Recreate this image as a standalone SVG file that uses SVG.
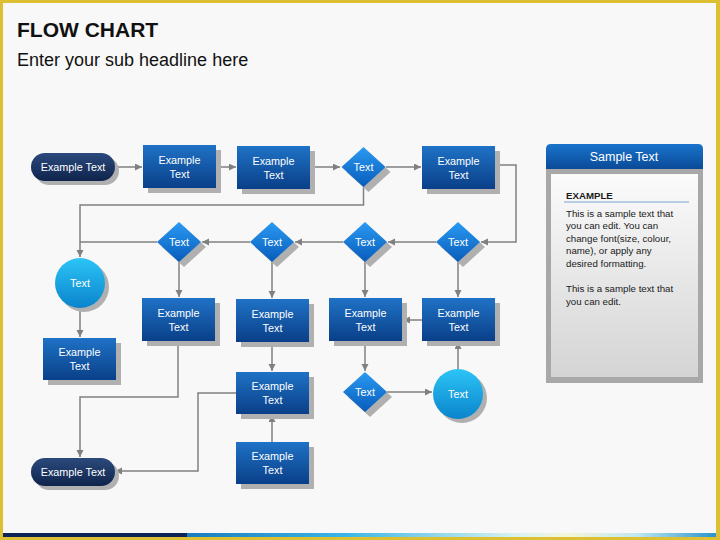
<svg xmlns="http://www.w3.org/2000/svg" width="720" height="540" viewBox="0 0 720 540">
<defs>
<linearGradient id="gBox" x1="0" y1="0" x2="0" y2="1"><stop offset="0" stop-color="#1f72c6"/><stop offset="1" stop-color="#0a3f88"/></linearGradient>
<linearGradient id="gDia" x1="0" y1="0" x2="0" y2="1"><stop offset="0" stop-color="#2a9af2"/><stop offset="1" stop-color="#085cba"/></linearGradient>
<linearGradient id="gCir" x1="0" y1="0" x2="0" y2="1"><stop offset="0" stop-color="#2cc4f6"/><stop offset="1" stop-color="#0a84cc"/></linearGradient>
<linearGradient id="gTerm" x1="0" y1="0" x2="0" y2="1"><stop offset="0" stop-color="#2b4a7c"/><stop offset="1" stop-color="#0f244c"/></linearGradient>
<linearGradient id="gHead" x1="0" y1="0" x2="0" y2="1"><stop offset="0" stop-color="#1a74cc"/><stop offset="1" stop-color="#0a4a98"/></linearGradient>
<linearGradient id="gPanel" x1="0" y1="0" x2="0" y2="1"><stop offset="0" stop-color="#fbfbfb"/><stop offset="1" stop-color="#d4d4d4"/></linearGradient>
<linearGradient id="gBar" x1="0" y1="0" x2="1" y2="0"><stop offset="0" stop-color="#1a7cc0"/><stop offset="0.3" stop-color="#3cb6e6"/><stop offset="0.62" stop-color="#d8f2f0"/><stop offset="0.72" stop-color="#f4f6d8"/><stop offset="0.85" stop-color="#bfe8f2"/><stop offset="1" stop-color="#2a94cc"/></linearGradient>
<marker id="arr" markerUnits="userSpaceOnUse" markerWidth="8" markerHeight="8" refX="7" refY="3.5" orient="auto"><path d="M0,0 L7,3.5 L0,7 z" fill="#808080"/></marker>
<style>
.bg{fill:#f8f8f8}
.sh{fill:#b0b0b0}
.box{fill:url(#gBox)}
.dia{fill:url(#gDia)}
.cir{fill:url(#gCir)}
.term{fill:url(#gTerm)}
.t{font-family:"Liberation Sans",Arial,sans-serif;font-size:10.8px;fill:#ffffff;text-anchor:middle}
.c{fill:none;stroke:#808080;stroke-width:1.5}
.ca{fill:none;stroke:#808080;stroke-width:1.5;marker-end:url(#arr)}
.pt{font-family:"Liberation Sans",Arial,sans-serif;font-size:9.7px;fill:#1a1a1a}
</style>
</defs>
<rect x="0" y="0" width="720" height="540" fill="#dcc032"/>
<rect class="bg" x="3" y="3" width="713" height="534"/>
<rect x="187" y="533" width="529" height="4" fill="url(#gBar)"/>
<rect x="3" y="533" width="184" height="4" fill="#0e2456"/>
<text x="17" y="37" font-family="'Liberation Sans',Arial,sans-serif" font-size="21" font-weight="bold" fill="#111">FLOW CHART</text>
<text x="17" y="66" font-family="'Liberation Sans',Arial,sans-serif" font-size="18" fill="#111">Enter your sub headline here</text>

<g id="connectors">
<path class="ca" d="M114,167 H142"/>
<path class="ca" d="M216,167 H236"/>
<path class="ca" d="M310,167 H340"/>
<path class="ca" d="M386,167 H421"/>
<path class="ca" d="M495,165 H516 V242 H481"/>
<path class="ca" d="M363.5,187 V205 H80 V257"/>
<path class="ca" d="M436,242 H388"/>
<path class="ca" d="M343,242 H295"/>
<path class="ca" d="M250,242 H202"/>
<path class="c" d="M157,242 H80"/>
<path class="ca" d="M179,262 V297"/>
<path class="ca" d="M272,262 V298"/>
<path class="ca" d="M365,262 V297"/>
<path class="ca" d="M458,262 V297"/>
<path class="ca" d="M80,308 V337"/>
<path class="ca" d="M422,320 H403"/>
<path class="ca" d="M272,341 V371"/>
<path class="ca" d="M272,442 V415"/>
<path class="ca" d="M365,341 V371"/>
<path class="ca" d="M387,392 H432"/>
<path class="ca" d="M458,369 V342"/>
<path class="ca" d="M178,341 V397 H80 V457"/>
<path class="ca" d="M236,393 H198 V471 H115"/>
</g>

<g id="term1"><rect class="sh" x="35" y="157" width="84" height="28" rx="14"/><rect class="term" x="31" y="153" width="84" height="28" rx="14"/><text class="t" x="73" y="171">Example Text</text></g>
<g id="box1"><rect class="sh" x="148" y="150" width="73" height="43"/><rect class="box" x="143" y="145" width="73" height="43"/><text class="t" x="179.5" y="163.5">Example</text><text class="t" x="179.5" y="177.5">Text</text></g>
<g id="box2"><rect class="sh" x="242" y="151" width="73" height="43"/><rect class="box" x="237" y="146" width="73" height="43"/><text class="t" x="273.5" y="164.5">Example</text><text class="t" x="273.5" y="178.5">Text</text></g>
<g id="dec1"><path class="sh" d="M368.5,152 L390.5,172 L368.5,192 L346.5,172 z"/><path class="dia" d="M363.5,147 L385.5,167 L363.5,187 L341.5,167 z"/><text class="t" x="363.5" y="171">Text</text></g>
<g id="box3"><rect class="sh" x="427" y="151" width="73" height="43"/><rect class="box" x="422" y="146" width="73" height="43"/><text class="t" x="458.5" y="164.5">Example</text><text class="t" x="458.5" y="178.5">Text</text></g>

<g id="dec2"><path class="sh" d="M184,227 L206,247 L184,267 L162,247 z"/><path class="dia" d="M179,222 L201,242 L179,262 L157,242 z"/><text class="t" x="179" y="246">Text</text></g>
<g id="dec3"><path class="sh" d="M277,227 L299,247 L277,267 L255,247 z"/><path class="dia" d="M272,222 L294,242 L272,262 L250,242 z"/><text class="t" x="272" y="246">Text</text></g>
<g id="dec4"><path class="sh" d="M370,227 L392,247 L370,267 L348,247 z"/><path class="dia" d="M365,222 L387,242 L365,262 L343,242 z"/><text class="t" x="365" y="246">Text</text></g>
<g id="dec5"><path class="sh" d="M463,227 L485,247 L463,267 L441,247 z"/><path class="dia" d="M458,222 L480,242 L458,262 L436,242 z"/><text class="t" x="458" y="246">Text</text></g>

<g id="circle1"><circle class="sh" cx="84" cy="287" r="25"/><circle class="cir" cx="80" cy="283" r="25"/><text class="t" x="80" y="287">Text</text></g>
<g id="box4"><rect class="sh" x="147" y="303" width="73" height="43"/><rect class="box" x="142" y="298" width="73" height="43"/><text class="t" x="178.5" y="316.5">Example</text><text class="t" x="178.5" y="330.5">Text</text></g>
<g id="box5"><rect class="sh" x="241" y="304" width="73" height="43"/><rect class="box" x="236" y="299" width="73" height="43"/><text class="t" x="272.5" y="317.5">Example</text><text class="t" x="272.5" y="331.5">Text</text></g>
<g id="box6"><rect class="sh" x="334" y="303" width="73" height="43"/><rect class="box" x="329" y="298" width="73" height="43"/><text class="t" x="365.5" y="316.5">Example</text><text class="t" x="365.5" y="330.5">Text</text></g>
<g id="box7"><rect class="sh" x="427" y="303" width="73" height="43"/><rect class="box" x="422" y="298" width="73" height="43"/><text class="t" x="458.5" y="316.5">Example</text><text class="t" x="458.5" y="330.5">Text</text></g>
<g id="box8"><rect class="sh" x="48" y="343" width="73" height="42"/><rect class="box" x="43" y="338" width="73" height="42"/><text class="t" x="79.5" y="356">Example</text><text class="t" x="79.5" y="370">Text</text></g>
<g id="box9"><rect class="sh" x="241" y="377" width="73" height="42"/><rect class="box" x="236" y="372" width="73" height="42"/><text class="t" x="272.5" y="390">Example</text><text class="t" x="272.5" y="404">Text</text></g>
<g id="dec6"><path class="sh" d="M370,377 L392,397 L370,417 L348,397 z"/><path class="dia" d="M365,372 L387,392 L365,412 L343,392 z"/><text class="t" x="365" y="396">Text</text></g>
<g id="circle2"><circle class="sh" cx="462" cy="398" r="25"/><circle class="cir" cx="458" cy="394" r="25"/><text class="t" x="458" y="398">Text</text></g>
<g id="box10"><rect class="sh" x="241" y="447" width="73" height="42"/><rect class="box" x="236" y="442" width="73" height="42"/><text class="t" x="272.5" y="460">Example</text><text class="t" x="272.5" y="474">Text</text></g>
<g id="term2"><rect class="sh" x="35" y="462" width="84" height="28" rx="14"/><rect class="term" x="31" y="458" width="84" height="28" rx="14"/><text class="t" x="73" y="476">Example Text</text></g>

<g id="panel">
<rect x="546" y="168" width="157" height="215" fill="#a8a8a8"/>
<rect x="551" y="174" width="147" height="203" fill="url(#gPanel)"/>
<path d="M546,169 V149 Q546,144 551,144 H698 Q703,144 703,149 V169 z" fill="url(#gHead)"/>
<text x="624" y="161" font-family="'Liberation Sans',Arial,sans-serif" font-size="12.5" fill="#ffffff" text-anchor="middle">Sample Text</text>
<text class="pt" x="566" y="199" font-weight="bold">EXAMPLE</text>
<line x1="564" y1="202" x2="689" y2="202" stroke="#7ba3d0" stroke-width="1"/>
<text class="pt" x="566" y="216.5">This is a sample text that</text>
<text class="pt" x="566" y="229">you can edit. You can</text>
<text class="pt" x="566" y="241.7">change font(size, colour,</text>
<text class="pt" x="566" y="254.4">name), or apply any</text>
<text class="pt" x="566" y="267">desired formatting.</text>
<text class="pt" x="566" y="292">This is a sample text that</text>
<text class="pt" x="566" y="304.7">you can edit.</text>
</g>
</svg>
